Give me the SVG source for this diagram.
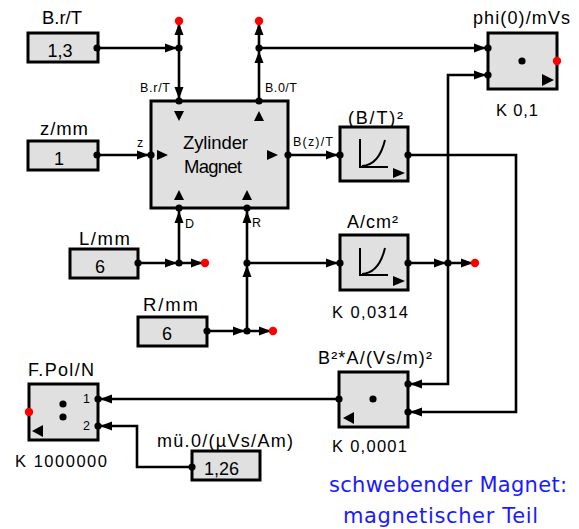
<svg xmlns="http://www.w3.org/2000/svg" xmlns:xlink="http://www.w3.org/1999/xlink" width="579" height="529" viewBox="0 0 579 529">
<style>
.blk{fill:#e0e0e0;stroke:#000;stroke-width:3}
.ln{fill:none;stroke:#000;stroke-width:2.6;stroke-linejoin:miter}
.dot{fill:#000}
.red{fill:#ff0000}
.tri{fill:#000}
text{font-family:"Liberation Sans",Arial,sans-serif;fill:#000}
.lab{font-size:18.5px;text-anchor:middle}
.val{font-size:18px;text-anchor:middle}
.bl{font-size:18px;text-anchor:middle}
.k{font-size:16.5px}
.sm{font-size:12.5px}
.blue{font-family:"DejaVu Sans","Comic Sans MS",sans-serif;font-size:21px;fill:#1a1aff;text-anchor:middle}
</style>
<defs>
<path id="ah" d="M0,0 L-12,-4.5 L-12,4.5 Z" fill="#000"/>
<circle id="jd" r="3.6" fill="#000"/>
<circle id="rd" r="4.2" fill="#ff0000"/>
</defs>

<g id="connectors">
<path class="ln" d="M97,48 H179"/>
<path class="ln" d="M179,21 V101"/>
<path class="ln" d="M259,21 V101"/>
<path class="ln" d="M259,48 H488"/>
<path class="ln" d="M97,155 H151"/>
<path class="ln" d="M288,155 H340"/>
<path class="ln" d="M408,155 H516 V412 H408"/>
<path class="ln" d="M488,75 H448 V384 H408"/>
<path class="ln" d="M408,263 H475"/>
<path class="ln" d="M138,263 H205"/>
<path class="ln" d="M179,263 V208"/>
<path class="ln" d="M207,331 H273"/>
<path class="ln" d="M247,331 V208"/>
<path class="ln" d="M247,263 H340"/>
<path class="ln" d="M339,399 H98"/>
<path class="ln" d="M192,467 H137 V426 H98"/>
<use xlink:href="#ah" transform="translate(177,48)"/>
<use xlink:href="#ah" transform="translate(179,23) rotate(-90)"/>
<use xlink:href="#ah" transform="translate(179,99) rotate(90)"/>
<use xlink:href="#ah" transform="translate(259,23) rotate(-90)"/>
<use xlink:href="#ah" transform="translate(259,51) rotate(-90)"/>
<use xlink:href="#ah" transform="translate(486,48)"/>
<use xlink:href="#ah" transform="translate(486,75)"/>
<use xlink:href="#ah" transform="translate(149,155)"/>
<use xlink:href="#ah" transform="translate(338,155)"/>
<use xlink:href="#ah" transform="translate(410,412) rotate(180)"/>
<use xlink:href="#ah" transform="translate(410,384) rotate(180)"/>
<use xlink:href="#ah" transform="translate(446,263)"/>
<use xlink:href="#ah" transform="translate(473,263)"/>
<use xlink:href="#ah" transform="translate(177,263)"/>
<use xlink:href="#ah" transform="translate(203,263)"/>
<use xlink:href="#ah" transform="translate(179,211) rotate(-90)"/>
<use xlink:href="#ah" transform="translate(245,331)"/>
<use xlink:href="#ah" transform="translate(271,331)"/>
<use xlink:href="#ah" transform="translate(247,211) rotate(-90)"/>
<use xlink:href="#ah" transform="translate(247,265) rotate(-90)"/>
<use xlink:href="#ah" transform="translate(338,263)"/>
<use xlink:href="#ah" transform="translate(100,399) rotate(180)"/>
<use xlink:href="#ah" transform="translate(100,426) rotate(180)"/>
<use xlink:href="#jd" x="179" y="48"/>
<use xlink:href="#jd" x="259" y="48"/>
<use xlink:href="#jd" x="448" y="263"/>
<use xlink:href="#jd" x="179" y="263"/>
<use xlink:href="#jd" x="247" y="263"/>
<use xlink:href="#jd" x="247" y="331"/>
<use xlink:href="#rd" x="179" y="21"/>
<use xlink:href="#rd" x="259" y="21"/>
<use xlink:href="#rd" x="475" y="263"/>
<use xlink:href="#rd" x="205" y="263"/>
<use xlink:href="#rd" x="273" y="331"/>
<text class="sm" x="140" y="92" textLength="30">B.r/T</text>
<text class="sm" x="265" y="92" textLength="32">B.0/T</text>
<text class="sm" x="293" y="146" textLength="40">B(z)/T</text>
<text class="sm" x="137" y="147">z</text>
<text class="sm" x="185" y="228">D</text>
<text class="sm" x="252" y="227">R</text>
</g>

<g id="const-Br">
<text class="lab" x="62" y="24" textLength="40">B.r/T</text>
<rect class="blk" x="28" y="33" width="70" height="29"/>
<text class="val" x="60" y="57" textLength="25">1,3</text>
<use xlink:href="#jd" x="97" y="48"/>
</g>

<g id="const-z">
<text class="lab" x="64" y="135" textLength="48">z/mm</text>
<rect class="blk" x="28" y="141" width="70" height="29"/>
<text class="val" x="59" y="165">1</text>
<use xlink:href="#jd" x="97" y="155"/>
</g>

<g id="const-L">
<text class="lab" x="104.5" y="245" textLength="51">L/mm</text>
<rect class="blk" x="70" y="249" width="68" height="29"/>
<text class="val" x="100" y="273">6</text>
<use xlink:href="#jd" x="138" y="263"/>
</g>

<g id="const-R">
<text class="lab" x="170.5" y="311" textLength="55">R/mm</text>
<rect class="blk" x="138" y="317" width="69" height="29"/>
<text class="val" x="167" y="340">6</text>
<use xlink:href="#jd" x="207" y="331"/>
</g>

<g id="const-mu">
<text class="bl" x="225" y="447" textLength="136">mü.0/(µVs/Am)</text>
<rect class="blk" x="192" y="451" width="68" height="29"/>
<text class="val" x="221.5" y="475" textLength="35">1,26</text>
<use xlink:href="#jd" x="192" y="467"/>
</g>

<g id="zylinder">
<rect class="blk" x="151" y="101" width="137" height="107"/>
<text class="lab" x="215.5" y="149" textLength="65">Zylinder</text>
<text class="lab" x="213" y="173" textLength="58">Magnet</text>
<polygon class="tri" points="174,111 184,111 179,121"/>
<polygon class="tri" points="254,121 264,121 259,111"/>
<polygon class="tri" points="157,150 168,155 157,160"/>
<polygon class="tri" points="267,150 278,155 267,160"/>
<polygon class="tri" points="174,200 184,200 179,190"/>
<polygon class="tri" points="242,200 252,200 247,190"/>
<use xlink:href="#jd" x="179" y="101"/>
<use xlink:href="#jd" x="259" y="101"/>
<use xlink:href="#jd" x="151" y="155"/>
<use xlink:href="#jd" x="288" y="155"/>
<use xlink:href="#jd" x="179" y="208"/>
<use xlink:href="#jd" x="247" y="208"/>
</g>

<g id="square">
<text class="bl" x="375.5" y="124" textLength="55">(B/T)²</text>
<rect class="blk" x="340" y="127" width="68" height="54"/>
<path d="M360,139 V167 H388 M362,166 Q379,165 385,140" fill="none" stroke="#000" stroke-width="2"/>
<polygon class="tri" points="393,168 405,173 393,178"/>
<use xlink:href="#jd" x="340" y="155"/>
<use xlink:href="#jd" x="408" y="155"/>
</g>

<g id="area">
<text class="bl" x="372.5" y="228" textLength="51">A/cm²</text>
<rect class="blk" x="340" y="235" width="68" height="55"/>
<path d="M360,248 V275 H388 M362,274 Q379,273 385,248" fill="none" stroke="#000" stroke-width="2"/>
<polygon class="tri" points="393,276 405,281 393,286"/>
<use xlink:href="#jd" x="340" y="263"/>
<use xlink:href="#jd" x="408" y="263"/>
<text class="k" x="332" y="318" textLength="76">K  0,0314</text>
</g>

<g id="phi">
<text class="bl" x="521.5" y="24" textLength="97">phi(0)/mVs</text>
<rect class="blk" x="488" y="33" width="69" height="56"/>
<circle cx="522" cy="61" r="3.6" fill="#000"/>
<polygon class="tri" points="542,74 554,80 542,86"/>
<use xlink:href="#jd" x="488" y="48"/>
<use xlink:href="#jd" x="488" y="75"/>
<use xlink:href="#rd" x="557" y="61"/>
<text class="k" x="496" y="116" textLength="42">K  0,1</text>
</g>

<g id="mult">
<text class="bl" x="375" y="364" textLength="114">B²*A/(Vs/m)²</text>
<rect class="blk" x="339" y="372" width="69" height="55"/>
<circle cx="373" cy="399" r="3.6" fill="#000"/>
<polygon class="tri" points="343,418 354,412 354,424"/>
<use xlink:href="#jd" x="339" y="399"/>
<use xlink:href="#jd" x="408" y="384"/>
<use xlink:href="#jd" x="408" y="412"/>
<text class="k" x="332" y="452" textLength="75">K  0,0001</text>
</g>

<g id="fpol">
<text class="bl" x="61" y="376" textLength="66">F.Pol/N</text>
<rect class="blk" x="29" y="384" width="69" height="56"/>
<circle cx="63" cy="404" r="3.6" fill="#000"/>
<circle cx="63" cy="417" r="3.6" fill="#000"/>
<polygon class="tri" points="32,431 43,425 43,437"/>
<text class="sm" x="83" y="403">1</text>
<text class="sm" x="83" y="430">2</text>
<use xlink:href="#jd" x="98" y="399"/>
<use xlink:href="#jd" x="98" y="426"/>
<use xlink:href="#rd" x="29" y="412"/>
<text class="k" x="15" y="467" textLength="92">K  1000000</text>
</g>

<g id="title">
<text class="blue" x="448" y="492" textLength="238">schwebender Magnet:</text>
<text class="blue" x="440.5" y="523" textLength="195">magnetischer Teil</text>
</g>
</svg>
